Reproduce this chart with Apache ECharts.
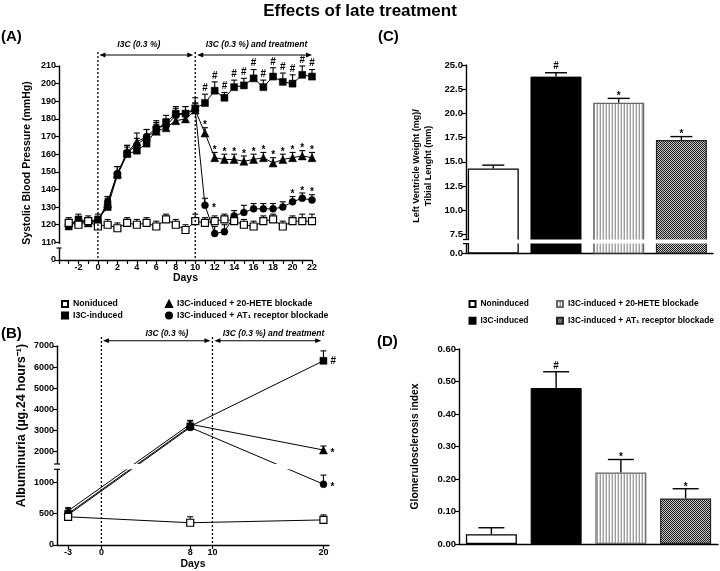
<!DOCTYPE html>
<html>
<head>
<meta charset="utf-8">
<script src="https://cdn.jsdelivr.net/npm/echarts@6.0.0/dist/echarts.min.js"></script>
<style>html,body{margin:0;padding:0;background:#fff;}#chart{width:720px;height:571px;}</style>
</head>
<body>
<div id="chart"></div>
<script>
// ---------------- DATA ----------------
// Panel A : systolic blood pressure (mmHg) per day
const daysA   = [-3,-2,-1,0,1,2,3,4,5,6,7,8,9,10,11,12,13,14,15,16,17,18,19,20,21,22];
const nonA    = [121,120,122,119,120,118,121,120,121,119,123,120,117,122,121,122,123,122,120,119,122,123,119,122,122,122];
const nonAErr = [3,3,3,3,3,3,3,3,3,3,3,3,3,4,3,3,3,3,3,3,3,3,3,3,4,4];
const sqA     = [119,123,122,123,130,148,160,162,166,174,178,183,183,186,189,196,192,198,199,203,198,204,201,200,205,204];
const sqAErr  = [2,3,2,3,5,5,4,3,4,4,4,4,4,6,5,5,3,4,4,5,4,5,5,5,5,4];
const triA    = [121,122,121,122,132,149,161,167,170,173,175,179,180,185,172,158,157,157,156,157,158,155,157,158,159,158];
const triAErr = [2,2,2,2,4,4,4,5,4,4,4,4,4,4,3,3,3,3,3,3,3,3,3,3,3,3];
const cirA    = [120,122,122,122,133,149,161,165,170,175,176,182,183,185,131,115,116,125,127,129,129,129,130,133,135,134];
const cirAErr = [2,2,2,2,3,4,4,4,4,4,4,4,4,4,4,4,4,3,4,3,3,3,3,3,3,3];
const sqASig  = ['','','','','','','','','','','','','','','#','#','#','#','#','#','#','#','#','#','#','#'];
const triASig = ['','','','','','','','','','','','','','','*','*','*','*','*','*','*','*','*','*','*','*'];
const cirASig = ['','','','','','','','','','','','','','','*>','','','','','','','','','*','*','*'];

// Panel B : albuminuria
const daysB   = [-3, 8, 20];
const nonB    = [450, 355, 400];   const nonBErr = [50, 95, 80];
const sqB     = [500, 3200, 6300]; const sqBErr  = [80, 280, 470];
const triB    = [545, 3300, 2080]; const triBErr = [50, 150, 190];
const cirB    = [480, 3150, 970];  const cirBErr = [60, 150, 145];
const sqBSig  = ['', '', '#>'];
const triBSig = ['', '', '*>'];
const cirBSig = ['', '', '*>'];
const ticksBX = [-3, 0, 8, 10, 20];
const ticksBY = [0, 500, 1000, 2000, 3000, 4000, 5000, 6000, 7000];

// Panel C : LV weight / tibial length
const groupsBar = ['Noninduced', 'I3C-induced', 'I3C-induced + 20-HETE blockade', 'I3C-induced + AT1 receptor blockade'];
const valC  = [14.3, 23.8, 21.1, 17.25];
const errC  = [0.35, 0.4, 0.45, 0.35];
const sigC  = ['', '#', '*', '*'];
const ticksCY = [7.5, 10, 12.5, 15, 17.5, 20, 22.5, 25];

// Panel D : glomerulosclerosis index
const valD  = [0.03, 0.48, 0.22, 0.14];
const errD  = [0.02, 0.05, 0.04, 0.03];
const sigD  = ['', '#', '*', '*'];

// Legend / series names
const lineNames = ['Noniduced', 'I3C-induced', 'I3C-induced + 20-HETE blockade', 'I3C-induced + AT\u2081 receptor blockade'];
const barNames  = ['Noninduced', 'I3C-induced ', 'I3C-induced + 20-HETE blockade ', 'I3C-induced + AT\u2081 receptor blockade '];

// ---------------- HELPERS ----------------
const F = '"Liberation Sans", Arial, Helvetica, sans-serif';
const BLACK = '#000';
// broken-axis mapping for panel B (lower segment 0..~1200, upper ~1400..7000)
function bY(v){ return v <= 1300 ? v * 0.0627 : 199 - (7000 - v) * 0.02114; }
const C_MIN = 5.57; // value position of the "0.0" label under the break in panel C

const chart = echarts.init(document.getElementById('chart'), null, {renderer:'canvas'});

const tickLbl = (extra) => Object.assign({color:BLACK, fontFamily:F, fontWeight:'bold', fontSize:9, margin:3}, extra||{});
const axLine = {show:true, onZero:false, lineStyle:{color:BLACK, width:1.4}};
const axTick = (extra) => Object.assign({show:true, length:4, lineStyle:{color:BLACK, width:1.2}}, extra||{});
const nameStyle = (size, extra) => Object.assign({color:BLACK, fontFamily:F, fontWeight:'bold', fontSize:size}, extra||{});

function pattern(w, h, draw){
  const c = document.createElement('canvas'); c.width = w; c.height = h;
  draw(c.getContext('2d'));
  return {image:c, repeat:'repeat'};
}
const stripes = pattern(3, 4, g => { g.fillStyle='#fff'; g.fillRect(0,0,3,4); g.fillStyle='#a0a0a0'; g.fillRect(0,0,1,4); g.fillStyle='#d6d6d6'; g.fillRect(2,0,1,4); });
const checker = pattern(2, 2, g => { g.fillStyle='#c8c8c8'; g.fillRect(0,0,2,2); g.fillStyle='#1a1a1a'; g.fillRect(0,0,1,1); g.fillRect(1,1,1,1); });
const barStyles = [
  {color:'#fff', borderColor:BLACK, borderWidth:1.3},
  {color:BLACK, borderColor:BLACK, borderWidth:1},
  {color:stripes, borderColor:'#666', borderWidth:1.2},
  {color:checker, borderColor:'#222', borderWidth:1.2}
];

function errSeries(g, data, capW, lw){
  return {type:'custom', xAxisIndex:g, yAxisIndex:g, z:1, silent:true, data,
    renderItem:(params, api) => {
      const x = api.value(0);
      const a = api.coord([x, api.value(1)]), b = api.coord([x, api.value(2)]);
      return {type:'group', children:[
        {type:'line', shape:{x1:a[0], y1:a[1], x2:b[0], y2:b[1]}, style:{stroke:BLACK, lineWidth:lw}},
        {type:'line', shape:{x1:b[0]-capW/2, y1:b[1], x2:b[0]+capW/2, y2:b[1]}, style:{stroke:BLACK, lineWidth:lw}}
      ]};
    }};
}
function markSeries(g, marks){
  return {type:'custom', xAxisIndex:g, yAxisIndex:g, z:6, silent:true,
    data: marks.map(m => [m.x, m.y]),
    renderItem:(params, api) => {
      const m = marks[params.dataIndex];
      const p = api.coord([api.value(0), api.value(1)]);
      const star = m.t === '*';
      if (m.right) {
        return {type:'text', x:p[0]+7, y:p[1]+(star?3:0), style:{text:m.t, fontFamily:F, fontWeight:'bold', fontSize:10, fill:BLACK, align:'left', verticalAlign:'middle'}};
      }
      return {type:'text', x:p[0], y:p[1]+(star?3:-1), style:{text:m.t, fontFamily:F, fontWeight:'bold', fontSize:10, fill:BLACK, align:'center', verticalAlign:'bottom'}};
    }};
}
function lineSeries(g, name, xs, ys, sym, size, fill){
  return {type:'line', name, xAxisIndex:g, yAxisIndex:g,
    data: xs.map((x,i) => [x, ys[i]]), symbol:sym, symbolSize:size, showAllSymbol:true,
    lineStyle:{color:BLACK, width:1}, itemStyle:{color:fill, borderColor:BLACK, borderWidth: fill === '#fff' ? 1.2 : 0.5},
    emphasis:{disabled:true}, clip:false};
}
function collectMarks(xs, ys, es, sig, tf){
  const out = [];
  sig.forEach((s, i) => {
    if (!s) return;
    const right = s.endsWith('>');
    const t = s.replace('>', '');
    out.push({x:xs[i], y: tf(right ? ys[i] : ys[i] + es[i]), t, right});
  });
  return out;
}
const id = v => v;

// ---------------- SERIES ----------------
const series = [];
// Panel A
const aSets = [
  {name:lineNames[2], y:triA, e:triAErr, s:triASig, sym:'triangle', size:8, fill:BLACK},
  {name:lineNames[3], y:cirA, e:cirAErr, s:cirASig, sym:'circle', size:7, fill:BLACK},
  {name:lineNames[1], y:sqA, e:sqAErr, s:sqASig, sym:'rect', size:7, fill:BLACK},
  {name:lineNames[0], y:nonA, e:nonAErr, s:null, sym:'rect', size:7, fill:'#fff'}
];
aSets.forEach(d => {
  series.push(errSeries(0, daysA.map((x,i) => [x, d.y[i], d.y[i] + d.e[i]]), 6, 1.1));
});
aSets.forEach(d => series.push(lineSeries(0, d.name, daysA, d.y, d.sym, d.size, d.fill)));
aSets.forEach(d => { if (d.s) series.push(markSeries(0, collectMarks(daysA, d.y, d.e, d.s, id))); });

// Panel B
const bSets = [
  {name:lineNames[2], y:triB, e:triBErr, s:triBSig, sym:'triangle', size:8, fill:BLACK},
  {name:lineNames[3], y:cirB, e:cirBErr, s:cirBSig, sym:'circle', size:7, fill:BLACK},
  {name:lineNames[1], y:sqB, e:sqBErr, s:sqBSig, sym:'rect', size:7, fill:BLACK},
  {name:lineNames[0], y:nonB, e:nonBErr, s:null, sym:'rect', size:7, fill:'#fff'}
];
bSets.forEach(d => {
  series.push(errSeries(1, daysB.map((x,i) => [x, bY(d.y[i]), bY(d.y[i] + d.e[i])]), 6, 1.1));
});
bSets.forEach(d => series.push(lineSeries(1, d.name, daysB, d.y.map(bY), d.sym, d.size, d.fill)));
bSets.forEach(d => { if (d.s) series.push(markSeries(1, collectMarks(daysB, d.y, d.e, d.s, bY))); });

// Panel C
series.push({type:'bar', xAxisIndex:2, yAxisIndex:2, barWidth:51, clip:true, silent:true,
  data: valC.map((v,i) => ({value:[i, v], itemStyle:barStyles[i]}))});
series.push(errSeries(2, valC.map((v,i) => [i, v, v + errC[i]]), 22, 1.4));
series.push(markSeries(2, collectMarks([0,1,2,3], valC, errC, sigC, id)));

// Panel D
barNames.forEach((n, k) => {
  series.push({type:'bar', name:n, xAxisIndex:3, yAxisIndex:3, barWidth:51, barGap:'-100%', silent:true,
    data: valD.map((v,j) => j === k ? v : '-'), itemStyle:barStyles[k]});
});
series.push(errSeries(3, valD.map((v,i) => [i, v, v + errD[i]]), 26, 1.4));
series.push(markSeries(3, collectMarks([0,1,2,3], valD, errD, sigD, id)));

// ---------------- OPTION ----------------
const legText = {fontFamily:F, fontWeight:'bold', fontSize:8.7, color:BLACK, lineHeight:11};
const legBase = {orient:'vertical', padding:0, itemWidth:6, itemHeight:6, selectedMode:false, textStyle:legText, formatter: n => n.trim()};

const option = {
  animation:false,
  backgroundColor:'#fff',
  textStyle:{fontFamily:F},
  title:[
    {text:'Effects of late treatment', left:'center', top:3, padding:0, textStyle:{fontFamily:F, fontWeight:'bold', fontSize:17, color:BLACK}},
    {text:'(A)', left:1, top:29, padding:0, textStyle:{fontFamily:F, fontWeight:'bold', fontSize:15, color:BLACK}},
    {text:'(B)', left:1, top:326, padding:0, textStyle:{fontFamily:F, fontWeight:'bold', fontSize:15, color:BLACK}},
    {text:'(C)', left:378, top:29, padding:0, textStyle:{fontFamily:F, fontWeight:'bold', fontSize:15, color:BLACK}},
    {text:'(D)', left:377, top:334, padding:0, textStyle:{fontFamily:F, fontWeight:'bold', fontSize:15, color:BLACK}}
  ],
  legend:[
    Object.assign({}, legBase, {left:61, top:298.5, itemGap:0.5, data:[{name:lineNames[0], icon:'rect'}, {name:lineNames[1], icon:'rect'}]}),
    Object.assign({}, legBase, {left:165, top:298.5, itemGap:0.5, data:[{name:lineNames[2], icon:'triangle'}, {name:lineNames[3], icon:'circle'}]}),
    Object.assign({}, legBase, {left:468.5, top:298.5, itemGap:5.7, textStyle:Object.assign({}, legText, {fontSize:8.4}), data:[{name:barNames[0], icon:'rect'}, {name:barNames[1], icon:'rect'}]}),
    Object.assign({}, legBase, {left:556, top:298.5, itemGap:5.7, textStyle:Object.assign({}, legText, {fontSize:8.4}), data:[{name:barNames[2], icon:'rect'}, {name:barNames[3], icon:'rect'}]})
  ],
  grid:[
    {left:59, top:66, width:253, height:194},
    {left:57, top:346, width:272, height:199},
    {left:466, top:65, width:247, height:188},
    {left:459, top:349, width:259, height:195}
  ],
  xAxis:[
    {gridIndex:0, type:'value', min:-4, max:22, interval:1, axisLine:axLine, axisTick:axTick(), splitLine:{show:false},
      axisLabel:tickLbl({formatter: v => (v % 2 === 0 && v > -4) ? String(v) : ''}),
      name:'Days', nameLocation:'middle', nameGap:13, nameTextStyle:nameStyle(10.5)},
    {gridIndex:1, type:'value', min:-4, max:20.5, axisLine:axLine, axisTick:axTick({customValues:ticksBX}), splitLine:{show:false},
      axisLabel:tickLbl({customValues:ticksBX}),
      name:'Days', nameLocation:'middle', nameGap:14, nameTextStyle:nameStyle(10.5)},
    {gridIndex:2, type:'value', min:-0.435, max:3.504, axisLine:axLine, axisTick:{show:false}, axisLabel:{show:false}, splitLine:{show:false}},
    {gridIndex:3, type:'category', data:groupsBar, axisLine:axLine, axisTick:{show:false}, axisLabel:{show:false}, splitLine:{show:false}}
  ],
  yAxis:[
    {gridIndex:0, type:'value', min:100, max:210, interval:10, axisLine:axLine, axisTick:axTick(), splitLine:{show:false},
      axisLabel:tickLbl({formatter: v => v === 100 ? '0' : String(v)}),
      name:'Systolic Blood Pressure (mmHg)', nameLocation:'middle', nameGap:26, nameRotate:90, nameTextStyle:nameStyle(10.5)},
    {gridIndex:1, type:'value', min:0, max:199, axisLine:axLine, axisTick:axTick({customValues:ticksBY.map(bY)}), splitLine:{show:false},
      axisLabel:tickLbl({customValues:ticksBY.map(bY), formatter: v => { const t = ticksBY.find(t => Math.abs(bY(t) - v) < 1e-6); return t === undefined ? '' : String(t); }}),
      name:'Albuminuria (\u00b5g.24 hours\u207b\u00b9)', nameLocation:'middle', nameGap:29, nameRotate:90, nameTextStyle:nameStyle(12.5, {padding:[0,0,0,40]})},
    {gridIndex:2, type:'value', min:C_MIN, max:25, axisLine:axLine, axisTick:axTick({customValues:[C_MIN].concat(ticksCY)}), splitLine:{show:false},
      axisLabel:tickLbl({fontSize:9.5, customValues:[C_MIN].concat(ticksCY), formatter: v => v < 7 ? '0.0' : v.toFixed(1)}),
      name:'Left Ventricle Weight (mg)/\nTibial Lenght (mm)', nameLocation:'middle', nameGap:31, nameRotate:90, nameTextStyle:nameStyle(9, {lineHeight:12, padding:[0,14,0,0]})},
    {gridIndex:3, type:'value', min:0, max:0.6, interval:0.1, axisLine:axLine, axisTick:axTick(), splitLine:{show:false},
      axisLabel:tickLbl({fontSize:9.5, formatter: v => v.toFixed(2)}),
      name:'Glomerulosclerosis index', nameLocation:'middle', nameGap:39, nameRotate:90, nameTextStyle:nameStyle(10.3)}
  ],
  series
};
chart.setOption(option);

// ---------------- ANNOTATIONS (positions from the axes) ----------------
const px = (g, x, y) => chart.convertToPixel({gridIndex:g}, [x, y]);
const G = [];
function dotted(x, y1, y2){ G.push({type:'line', z:100, shape:{x1:x, y1:y1, x2:x, y2:y2}, style:{stroke:BLACK, lineWidth:1.3, lineDash:[2,2]}}); }
function arrow(x1, x2, y){
  const h = 6, w = 2.4;
  G.push({type:'line', z:100, shape:{x1:x1+2, y1:y, x2:x2-2, y2:y}, style:{stroke:BLACK, lineWidth:1.1}});
  G.push({type:'polygon', z:100, shape:{points:[[x1,y],[x1+h,y-w],[x1+h,y+w]]}, style:{fill:BLACK}});
  G.push({type:'polygon', z:100, shape:{points:[[x2,y],[x2-h,y-w],[x2-h,y+w]]}, style:{fill:BLACK}});
}
function note(x, y, text){ G.push({type:'text', z:100, x:x, y:y, style:{text:text, fontFamily:F, fontWeight:'bold', fontStyle:'italic', fontSize:8.5, fill:BLACK, align:'center', verticalAlign:'middle'}}); }
function whiteRect(x1, y1, x2, y2){ G.push({type:'rect', z:90, shape:{x:Math.min(x1,x2), y:Math.min(y1,y2), width:Math.abs(x2-x1), height:Math.abs(y2-y1)}, style:{fill:'#fff'}}); }
function hdash(x, y, w){ G.push({type:'line', z:95, shape:{x1:x-w/2, y1:y, x2:x+w/2, y2:y}, style:{stroke:BLACK, lineWidth:1.2}}); }

// Panel A
{
  const top = px(0, 0, 210)[1], bot = px(0, 0, 100)[1];
  const x0 = px(0, 0, 210)[0], x10 = px(0, 10, 210)[0], x22 = px(0, 22, 210)[0];
  dotted(x0, top - 14, bot); dotted(x10, top - 14, bot);
  arrow(x0 + 1.5, x10 - 2, top - 11); arrow(x10 + 2, x22, top - 11);
  note(px(0, 4.2, 210)[0], top - 21, 'I3C (0.3 %)');
  note(px(0, 16.3, 210)[0], top - 21, 'I3C (0.3 %) and treatment');
  const ax = px(0, -4, 110)[0];
  const y1 = px(0, -4, 109.1)[1], y2 = px(0, -4, 106.8)[1];
  whiteRect(ax - 6, y1, ax + 3, y2); hdash(ax, y2, 5);
}
// Panel B
{
  const top = px(1, 0, bY(7000))[1], bot = px(1, 0, 0)[1];
  const x0 = px(1, 0, 0)[0], x10 = px(1, 10, 0)[0], xEnd = px(1, 19.8, 0)[0];
  const left = px(1, -4, 0)[0], right = px(1, 20.5, 0)[0];
  const yU = px(1, 0, bY(1418))[1], yL = px(1, 0, bY(1207))[1];
  whiteRect(left - 6, yU, right + 1, yL); hdash(left, yU, 6); hdash(left, yL, 6);
  dotted(x0, top - 9, bot); dotted(x10, top - 9, bot);
  arrow(x0 + 1.5, x10 - 2, top - 5.3); arrow(x10 + 2, xEnd, top - 5.3);
  note(px(1, 5.9, 0)[0], top - 12.7, 'I3C (0.3 %)');
  note(px(1, 15.5, 0)[0], top - 12.7, 'I3C (0.3 %) and treatment');
}
// Panel C
{
  const ax = px(2, -0.435, 25)[0], right = px(2, 3.504, 25)[0];
  const y1 = px(2, 0, 6.96)[1], y2 = px(2, 0, 6.54)[1];
  whiteRect(ax - 6, y1, right + 1, y2); hdash(ax, y1, 6); hdash(ax, y2, 6);
}
chart.setOption({graphic:{elements:G}});
</script>
</body>
</html>
